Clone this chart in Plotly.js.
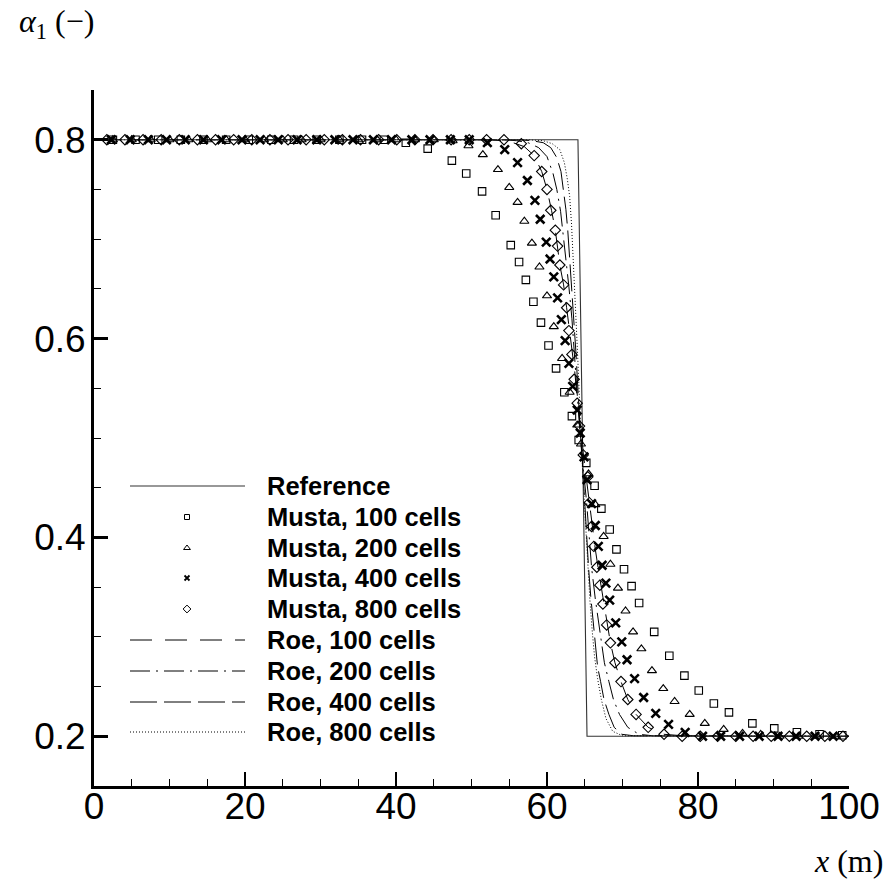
<!DOCTYPE html>
<html><head><meta charset="utf-8">
<script src="https://cdn.plot.ly/plotly-3.0.1.min.js"></script>
<style>html,body{margin:0;padding:0;background:#fff;}</style>
</head><body>
<div id="chart" style="width:894px;height:882px;"></div>
<script>
// ---------- data ----------
const refX = [0, 64.1, 65.3, 100];
const refY = [0.8, 0.8, 0.2, 0.2];

const musta100X = [2.5, 5.5, 8.5, 11.5, 14.5, 17.5, 20.5, 23.5, 26.5, 29.5, 32.5, 35.5,
  38.4, 41.3, 44.2, 47.4, 49.3, 51.4, 53.2, 55.2, 56.3, 57.2, 58.2, 59.2, 60.2, 61.2, 62.3,
  63.3, 64.2, 65.2, 66.3, 67.2, 68.3, 69.2, 70.2, 71.2, 72.2, 74.2, 76.2, 78.2, 80.1, 82.1,
  84.1, 87.2, 90.1, 93.1, 96.1, 99.1];
const musta100Y = [0.8, 0.8, 0.8, 0.8, 0.8, 0.8, 0.8, 0.8, 0.8, 0.8, 0.8, 0.8,
  0.8, 0.797, 0.791, 0.779, 0.766, 0.748, 0.724, 0.694, 0.677, 0.659, 0.637, 0.616, 0.593, 0.570, 0.546,
  0.522, 0.498, 0.475, 0.452, 0.429, 0.408, 0.388, 0.368, 0.351, 0.334, 0.305, 0.281, 0.261, 0.246, 0.233,
  0.224, 0.213, 0.208, 0.204, 0.202, 0.201];

const musta200X = [2.5, 5.0, 7.5, 10.0, 12.5, 15.0, 17.5, 20.0, 22.5, 25.0, 27.5, 30.0, 32.5, 35.0,
  37.5, 40.0, 42.5, 45.0, 47.5, 49.6, 51.5, 53.5, 55.0, 56.1, 57.0, 58.0, 59.0, 60.0, 60.9, 62.0,
  63.0, 64.0, 64.5, 65.5, 66.4, 67.5, 68.4, 69.4, 70.4, 71.4, 72.5, 73.9, 75.4, 76.9, 78.9, 80.9,
  83.4, 85.9, 88.3, 90.8, 93.3, 95.8, 98.3];
const musta200Y = [0.8, 0.8, 0.8, 0.8, 0.8, 0.8, 0.8, 0.8, 0.8, 0.8, 0.8, 0.8, 0.8, 0.8,
  0.8, 0.8, 0.8, 0.8, 0.799, 0.794, 0.785, 0.770, 0.752, 0.737, 0.718, 0.696, 0.672, 0.643, 0.612, 0.580,
  0.546, 0.513, 0.494, 0.464, 0.433, 0.401, 0.373, 0.349, 0.326, 0.305, 0.288, 0.266, 0.248, 0.235, 0.222, 0.213,
  0.207, 0.203, 0.202, 0.2, 0.2, 0.2, 0.2];

const musta400X = [2.3, 4.8, 7.2, 9.6, 12.1, 14.5, 16.9, 19.6, 22.0, 24.4, 26.9, 29.5, 31.9, 34.3,
  37.0, 39.4, 42.1, 44.5, 47.2, 49.7, 52.1, 54.4, 56.1, 57.4, 58.4, 59.1, 59.9, 60.4, 60.9, 61.4,
  61.9, 62.4, 62.9, 63.4, 64.0, 64.4, 64.9, 65.3, 65.9, 66.4, 66.8, 67.3, 67.8, 68.3, 69.1, 69.9,
  70.6, 71.6, 72.8, 74.4, 76.1, 78.3, 80.6, 83.0, 85.5, 88.1, 90.6, 93.0, 95.5, 97.9];
const musta400Y = [0.8, 0.8, 0.8, 0.8, 0.8, 0.8, 0.8, 0.8, 0.8, 0.8, 0.8, 0.8, 0.8, 0.8,
  0.8, 0.8, 0.8, 0.8, 0.8, 0.8, 0.797, 0.790, 0.777, 0.759, 0.739, 0.720, 0.697, 0.680, 0.662, 0.641,
  0.619, 0.598, 0.575, 0.552, 0.528, 0.505, 0.481, 0.458, 0.434, 0.412, 0.391, 0.372, 0.354, 0.337, 0.314, 0.295,
  0.277, 0.258, 0.239, 0.223, 0.212, 0.204, 0.200, 0.2, 0.2, 0.2, 0.2, 0.2, 0.2, 0.2];

const musta800X = [1.7, 4.1, 6.5, 8.9, 11.3, 13.7, 16.1, 18.5, 20.9, 23.3, 25.7, 28.1, 30.5, 32.9,
  35.3, 37.7, 40.1, 42.5, 44.9, 47.3, 49.7, 52.0, 54.3, 56.6, 58.3, 59.3, 60.0, 60.5, 61.1, 61.4,
  61.7, 62.2, 62.6, 62.9, 63.3, 63.6, 64.0, 64.3, 64.8, 65.4, 65.6, 65.9, 66.2, 66.6, 67.0, 67.4,
  67.9, 68.4, 69.0, 69.8, 70.7, 71.8, 73.4, 75.5, 77.9, 80.3, 82.6, 85.0, 87.3, 89.7, 92.1, 94.4,
  96.8, 99.2];
const musta800Y = [0.8, 0.8, 0.8, 0.8, 0.8, 0.8, 0.8, 0.8, 0.8, 0.8, 0.8, 0.8, 0.8, 0.8,
  0.8, 0.8, 0.8, 0.8, 0.8, 0.8, 0.8, 0.8, 0.8, 0.796, 0.784, 0.768, 0.750, 0.729, 0.709, 0.693,
  0.674, 0.654, 0.631, 0.608, 0.584, 0.559, 0.535, 0.512, 0.483, 0.461, 0.435, 0.411, 0.391, 0.370, 0.352, 0.333,
  0.312, 0.294, 0.274, 0.255, 0.237, 0.222, 0.209, 0.202, 0.2, 0.2, 0.2, 0.2, 0.2, 0.2, 0.2, 0.2,
  0.2, 0.2];

const roe100X = [0, 50, 52, 54, 55.5, 57, 58.3, 59.3, 60.0, 60.6, 61.1, 61.7, 62.2, 62.6, 63.0, 63.3,
  63.7, 64.0, 64.4, 64.8, 65.2, 65.6, 66.0, 66.4, 66.8, 67.3, 67.9, 68.4, 69.0, 69.8, 70.7, 71.8,
  73.4, 75.5, 78, 80, 100];
const roe100Y = [0.8, 0.8, 0.8, 0.799, 0.797, 0.793, 0.784, 0.768, 0.75, 0.729, 0.709, 0.674, 0.654, 0.631, 0.608, 0.59,
  0.565, 0.54, 0.51, 0.485, 0.46, 0.435, 0.41, 0.388, 0.368, 0.345, 0.315, 0.294, 0.274, 0.255, 0.237, 0.222,
  0.209, 0.202, 0.2005, 0.2, 0.2];

const roe200X = [0, 54, 56, 57.5, 58.9, 60.0, 60.8, 61.3, 61.8, 62.1, 62.5, 62.9, 63.3, 63.6, 64.0, 64.3,
  64.8, 65.25, 65.6, 65.9, 66.4, 66.85, 67.3, 67.6, 68.2, 68.8, 69.6, 70.7, 72.2, 74, 100];
const roe200Y = [0.8, 0.8, 0.799, 0.797, 0.792, 0.783, 0.766, 0.75, 0.728, 0.708, 0.68, 0.652, 0.62, 0.585, 0.548, 0.512,
  0.47, 0.435, 0.4, 0.37, 0.338, 0.312, 0.29, 0.274, 0.255, 0.237, 0.222, 0.209, 0.202, 0.2005, 0.2];

const roe400X = [0, 56, 58, 59.5, 60.5, 61.3, 61.85, 62.2, 62.5, 62.75, 63.0, 63.3, 63.6, 63.85, 64.1, 64.35,
  64.7, 65.0, 65.25, 65.5, 65.8, 66.15, 66.4, 66.7, 67.1, 67.55, 68.2, 68.9, 69.9, 71.5, 100];
const roe400Y = [0.8, 0.8, 0.799, 0.797, 0.792, 0.782, 0.768, 0.75, 0.73, 0.709, 0.68, 0.652, 0.618, 0.584, 0.548, 0.512,
  0.47, 0.435, 0.4, 0.37, 0.34, 0.312, 0.29, 0.27, 0.255, 0.237, 0.222, 0.209, 0.202, 0.2005, 0.2];

const roe800X = [0, 57.5, 59.5, 60.7, 61.7, 62.3, 62.7, 63.0, 63.25, 63.45, 63.65, 63.85, 64.05, 64.25,
  64.45, 64.7, 64.95, 65.2, 65.45, 65.7, 66.0, 66.3, 66.7, 67.2, 67.8, 68.7, 70, 100];
const roe800Y = [0.8, 0.8, 0.799, 0.796, 0.79, 0.777, 0.76, 0.743, 0.715, 0.685, 0.655, 0.62, 0.585, 0.548,
  0.51, 0.47, 0.435, 0.4, 0.365, 0.335, 0.305, 0.28, 0.258, 0.237, 0.218, 0.205, 0.2005, 0.2];

const legendLabels = ["Reference", "Musta, 100 cells", "Musta, 200 cells", "Musta, 400 cells",
  "Musta, 800 cells", "Roe, 100 cells", "Roe, 200 cells", "Roe, 400 cells", "Roe, 800 cells"];
const xTicks = [0, 20, 40, 60, 80, 100];
const yTicks = [0.2, 0.4, 0.6, 0.8];
const yTickText = ["0.2", "0.4", "0.6", "0.8"];
const yTitle = "<i>α</i><sub>1</sub> (−)";
const xTitle = "<i>x</i> (m)";

// ---------- styles ----------
const BLACK = "#000";
const styles = [
  {mode: "lines", line: {color: "#333", width: 1.1}},
  {mode: "markers", marker: {symbol: "square-open", size: 7.5, color: BLACK, line: {width: 1.1, color: BLACK}}},
  {mode: "markers", marker: {symbol: "triangle-up-open", size: 8, color: BLACK, line: {width: 1.1, color: BLACK}}},
  {mode: "markers", marker: {symbol: "x-thin-open", size: 8.5, color: BLACK, line: {width: 2.6, color: BLACK}}},
  {mode: "markers", marker: {symbol: "diamond-open", size: 8, color: BLACK, line: {width: 1.1, color: BLACK}}},
  {mode: "lines", line: {color: BLACK, width: 1, dash: "22px,13px"}},
  {mode: "lines", line: {color: BLACK, width: 1, dash: "20px,6px,2px,6px"}},
  {mode: "lines", line: {color: BLACK, width: 1, dash: "27px,7px"}},
  {mode: "lines", line: {color: BLACK, width: 1, dash: "1px,2px"}}
];
const legendMarkers = [
  null,
  {symbol: "square-open", size: 5, color: BLACK, line: {width: 1, color: BLACK}},
  {symbol: "triangle-up-open", size: 6, color: BLACK, line: {width: 1, color: BLACK}},
  {symbol: "x-thin-open", size: 5, color: BLACK, line: {width: 1.8, color: BLACK}},
  {symbol: "diamond-open", size: 6, color: BLACK, line: {width: 1, color: BLACK}},
  null, null, null, null
];

const seriesX = [refX, musta100X, musta200X, musta400X, musta800X, roe100X, roe200X, roe400X, roe800X];
const seriesY = [refY, musta100Y, musta200Y, musta400Y, musta800Y, roe100Y, roe200Y, roe400Y, roe800Y];

// draw order: lines first, then markers
const order = [5, 6, 7, 8, 0, 1, 2, 3, 4];
const traces = [];
order.forEach(i => {
  traces.push(Object.assign({type: "scatter", x: seriesX[i], y: seriesY[i], showlegend: false,
    hoverinfo: "skip", cliponaxis: false}, JSON.parse(JSON.stringify(styles[i]))));
});

// ---------- manual legend (pixel-positioned overlay axes) ----------
const L = 94, R = 849, T = 90, B = 786;
const px2paperX = p => (p - L) / (R - L);
const px2paperY = p => (B - p) / (B - T);
const rowY = [486, 517, 548, 578, 609, 640, 671, 702, 732];
const sampleX0 = 130, sampleX1 = 245, sampleXc = 187, textX = 265;
const annotations = [];
legendLabels.forEach((lab, i) => {
  const st = styles[i];
  if (st.mode === "lines") {
    traces.push({type: "scatter", xaxis: "x2", yaxis: "y2", mode: "lines",
      x: [sampleX0, sampleX1], y: [rowY[i], rowY[i]], line: JSON.parse(JSON.stringify(st.line)),
      showlegend: false, hoverinfo: "skip"});
  } else {
    traces.push({type: "scatter", xaxis: "x2", yaxis: "y2", mode: "markers",
      x: [sampleXc], y: [rowY[i]], marker: legendMarkers[i], showlegend: false, hoverinfo: "skip"});
  }
  annotations.push({xref: "x2", yref: "y2", x: textX, y: rowY[i], xanchor: "left", yanchor: "middle",
    text: "<b>" + lab + "</b>", showarrow: false,
    font: {family: "Liberation Sans, Arial, sans-serif", size: 25.5, color: BLACK}});
});
annotations.push({xref: "paper", yref: "paper", x: px2paperX(17), y: px2paperY(23), xanchor: "left", yanchor: "middle",
  text: yTitle, showarrow: false,
  font: {family: "Liberation Serif, Times New Roman, serif", size: 32, color: BLACK}});
annotations.push({xref: "paper", yref: "paper", x: px2paperX(885), y: px2paperY(861), xanchor: "right", yanchor: "middle",
  text: xTitle, showarrow: false,
  font: {family: "Liberation Serif, Times New Roman, serif", size: 32, color: BLACK}});

const tickFont = {family: "Liberation Sans, Arial, sans-serif", size: 37, color: BLACK};
const layout = {
  width: 894, height: 882,
  margin: {l: L, r: 894 - R, t: T, b: 882 - B, pad: 0},
  paper_bgcolor: "#fff", plot_bgcolor: "#fff",
  showlegend: false,
  xaxis: {range: [0, 100], tickvals: xTicks, ticktext: xTicks.map(String), ticks: "inside",
    ticklen: 14, tickwidth: 2.5, tickcolor: BLACK, showline: true, linewidth: 3, linecolor: BLACK,
    showgrid: false, zeroline: false, mirror: false, tickfont: tickFont, ticklabelstandoff: -14,
    minor: {dtick: 5, tick0: 0, ticks: "inside", ticklen: 7, tickwidth: 1, tickcolor: BLACK, showgrid: false}},
  yaxis: {range: [0.15, 0.85], tickvals: yTicks, ticktext: yTickText, ticks: "inside",
    ticklen: 14, tickwidth: 2.5, tickcolor: BLACK, showline: true, linewidth: 3, linecolor: BLACK,
    showgrid: false, zeroline: false, mirror: false, tickfont: tickFont, ticklabelstandoff: -2,
    minor: {dtick: 0.05, tick0: 0.15, ticks: "inside", ticklen: 7, tickwidth: 1, tickcolor: BLACK, showgrid: false}},
  xaxis2: {overlaying: "x", range: [L, R], visible: false, fixedrange: true},
  yaxis2: {overlaying: "y", range: [B, T], visible: false, fixedrange: true},
  annotations: annotations
};
Plotly.newPlot("chart", traces, layout, {staticPlot: true, displayModeBar: false});
</script>
</body></html>
